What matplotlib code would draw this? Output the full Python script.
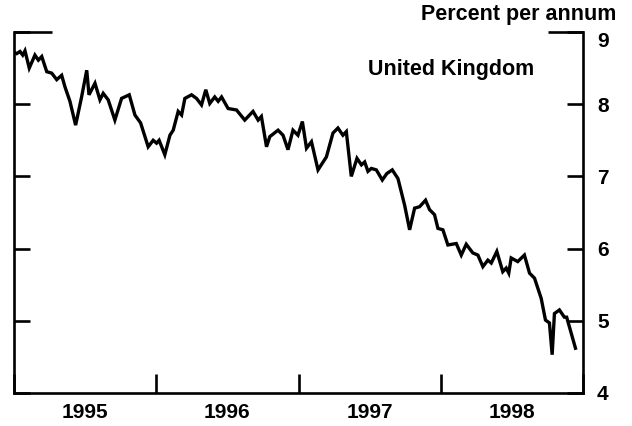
import numpy as np
import matplotlib.pyplot as plt
import matplotlib.transforms as mtransforms

plt.rcParams['font.family'] = ['Liberation Sans', 'DejaVu Sans']
plt.rcParams['font.weight'] = 'bold'

# UK yield, percent per annum (decimal year, value)
years = [
    1995.000, 1995.019, 1995.042, 1995.061, 1995.077, 1995.107, 1995.147, 1995.171,
    1995.195, 1995.230, 1995.265, 1995.300, 1995.335, 1995.358, 1995.393, 1995.433,
    1995.475, 1995.511, 1995.527, 1995.569, 1995.604, 1995.627, 1995.662, 1995.709,
    1995.756, 1995.810, 1995.850, 1995.890, 1995.943, 1995.978, 1996.002, 1996.020,
    1996.060, 1996.096, 1996.119, 1996.154, 1996.178, 1996.201, 1996.248, 1996.283,
    1996.318, 1996.348, 1996.376, 1996.411, 1996.435, 1996.459, 1996.505, 1996.564,
    1996.622, 1996.680, 1996.716, 1996.739, 1996.775, 1996.798, 1996.856, 1996.891,
    1996.926, 1996.961, 1996.996, 1997.027, 1997.056, 1997.091, 1997.137, 1997.196,
    1997.242, 1997.277, 1997.312, 1997.336, 1997.371, 1997.411, 1997.442, 1997.465,
    1997.488, 1997.512, 1997.547, 1997.589, 1997.621, 1997.659, 1997.699, 1997.746,
    1997.781, 1997.816, 1997.851, 1997.893, 1997.921, 1997.956, 1997.980, 1998.015,
    1998.050, 1998.109, 1998.144, 1998.179, 1998.225, 1998.261, 1998.296, 1998.331,
    1998.355, 1998.394, 1998.436, 1998.460, 1998.478, 1998.495, 1998.541, 1998.588,
    1998.624, 1998.659, 1998.706, 1998.736, 1998.764, 1998.783, 1998.799, 1998.834,
    1998.869, 1998.885, 1998.947,
]
rates = [
    8.72, 8.70, 8.73, 8.68, 8.74, 8.50, 8.68, 8.61,
    8.66, 8.45, 8.43, 8.34, 8.40, 8.24, 8.04, 7.71,
    8.10, 8.47, 8.13, 8.29, 8.06, 8.15, 8.06, 7.78,
    8.08, 8.13, 7.85, 7.74, 7.41, 7.50, 7.46, 7.50,
    7.30, 7.57, 7.64, 7.90, 7.85, 8.08, 8.13, 8.08,
    7.99, 8.20, 8.01, 8.10, 8.04, 8.10, 7.94, 7.92,
    7.78, 7.90, 7.78, 7.83, 7.41, 7.55, 7.64, 7.57,
    7.37, 7.64, 7.57, 7.76, 7.39, 7.48, 7.09, 7.27,
    7.60, 7.67, 7.57, 7.62, 7.00, 7.25, 7.16, 7.20,
    7.07, 7.11, 7.09, 6.95, 7.04, 7.09, 6.97, 6.60,
    6.26, 6.56, 6.58, 6.67, 6.54, 6.47, 6.28, 6.26,
    6.05, 6.07, 5.91, 6.06, 5.94, 5.91, 5.75, 5.84,
    5.80, 5.96, 5.68, 5.73, 5.66, 5.87, 5.82, 5.91,
    5.66, 5.59, 5.31, 5.01, 4.97, 4.53, 5.10, 5.15,
    5.05, 5.05, 4.62,
]

year_ticks = [1995, 1996, 1997, 1998, 1999]
year_labels = ['1995', '1996', '1997', '1998']
y_ticks = [4, 5, 6, 7, 8, 9]

fig = plt.figure(figsize=(6.32, 4.26), dpi=100)
ax = fig.add_axes([0.0222, 0.0775, 0.9003, 0.8474])

ax.plot(years, rates, color='black', linewidth=2.4, solid_joinstyle='miter')

ax.set_xlim(1995, 1999)
ax.set_ylim(4, 9)

for side in ['left', 'right', 'bottom']:
    ax.spines[side].set_linewidth(1.9)
ax.spines['top'].set_visible(False)
# short stubs in place of the top frame
ax.plot([0, 0.067], [1, 1], transform=ax.transAxes, color='black',
        linewidth=1.9, clip_on=False, solid_capstyle='butt')
ax.plot([0.938, 1.0], [1, 1], transform=ax.transAxes, color='black',
        linewidth=1.9, clip_on=False, solid_capstyle='butt')

ax.set_yticks(y_ticks)
ax.yaxis.set_ticks_position('both')
ax.tick_params(axis='y', direction='in', length=11.5, width=1.9,
               left=True, right=True, labelleft=False, labelright=True,
               labelsize=15, pad=10)

# top label sits a little lower, under the title
fig.canvas.draw()
for tick in ax.yaxis.get_major_ticks():
    if tick.get_loc() == 9:
        off = mtransforms.ScaledTranslation(0, -8 / 100, fig.dpi_scale_trans)
        tick.label2.set_transform(tick.label2.get_transform() + off)

ax.set_xticks(year_ticks)
ax.set_xticklabels([])
ax.tick_params(axis='x', which='major', direction='in', length=14, width=1.9)
ax.set_xticks([y + 0.5 for y in year_ticks[:-1]], minor=True)
ax.set_xticklabels(year_labels, minor=True)
ax.tick_params(axis='x', which='minor', length=0, labelsize=15, pad=7)

fig.text(0.975, 0.965, 'Percent per annum', ha='right', va='center', fontsize=15.5)
ax.text(0.914, 0.895, 'United Kingdom', transform=ax.transAxes,
        ha='right', va='center', fontsize=15.5)

fig.savefig('out.png', dpi=100)
